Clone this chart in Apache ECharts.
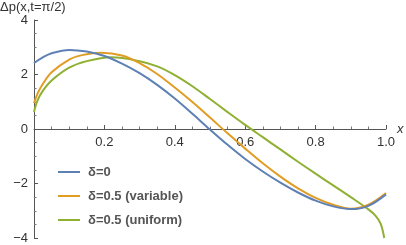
<!DOCTYPE html>
<html>
<head>
<meta charset="utf-8">
<script src="https://cdn.jsdelivr.net/npm/echarts@6/dist/echarts.min.js"></script>
<style>html,body{margin:0;padding:0;background:#fff}#c{width:406px;height:245px}</style>
</head>
<body>
<div id="c"></div>
<script>
var seriesNames = ['δ=0', 'δ=0.5 (variable)', 'δ=0.5 (uniform)'];
var colors = ['#5E81B5', '#E19C24', '#8FB032'];

var xBlue = [0, 0.025, 0.05, 0.1, 0.15, 0.2, 0.25, 0.3, 0.35, 0.4, 0.45, 0.5, 0.55, 0.6, 0.65, 0.7, 0.75, 0.8, 0.85, 0.9, 0.95, 1.0];
var yBlue = [2.42, 2.63, 2.78, 2.9, 2.84, 2.68, 2.4, 2.05, 1.62, 1.12, 0.56, -0.02, -0.58, -1.1, -1.56, -1.97, -2.33, -2.63, -2.84, -2.94, -2.82, -2.4];

var xOrange = [0, 0.01, 0.025, 0.05, 0.1, 0.14, 0.19, 0.25, 0.3, 0.35, 0.4, 0.45, 0.5, 0.55, 0.6, 0.65, 0.7, 0.75, 0.8, 0.85, 0.9, 0.95, 1.0];
var yOrange = [0.95, 1.3, 1.65, 2.08, 2.55, 2.72, 2.8, 2.7, 2.42, 2.02, 1.52, 0.99, 0.42, -0.16, -0.72, -1.26, -1.75, -2.18, -2.53, -2.78, -2.93, -2.78, -2.35];

var xGreen = [0, 0.01, 0.025, 0.05, 0.1, 0.15, 0.22, 0.3, 0.35, 0.4, 0.45, 0.5, 0.55, 0.6, 0.65, 0.7, 0.75, 0.8, 0.85, 0.9, 0.95, 0.97, 0.985, 0.995];
var yGreen = [0.62, 1.05, 1.4, 1.78, 2.25, 2.49, 2.63, 2.49, 2.3, 1.98, 1.57, 1.1, 0.62, 0.15, -0.3, -0.75, -1.2, -1.64, -2.07, -2.5, -2.95, -3.18, -3.48, -4.0];

var xTicks = [0.2, 0.4, 0.6, 0.8, 1.0];
var yTicks = [-4, -2, 0, 2, 4];

function pairs(xs, ys) { return xs.map(function (x, i) { return [x, ys[i]]; }); }

var font = 'Liberation Sans, Arial, sans-serif';
var chart = echarts.init(document.getElementById('c'), null, {renderer: 'canvas'});
var dataSets = [pairs(xBlue, yBlue), pairs(xOrange, yOrange), pairs(xGreen, yGreen)];

chart.setOption({
  animation: false,
  textStyle: {fontFamily: font},
  title: {
    text: 'Δp(x,t=π/2)', left: 0, top: 1, padding: 0,
    textStyle: {fontSize: 13, fontWeight: 'normal', color: '#333', fontFamily: font}
  },
  grid: {left: 34, right: 20, top: 20, bottom: 7, containLabel: false, outerBoundsMode: 'none'},
  legend: {
    orient: 'vertical', left: 58, top: 165, padding: 0,
    itemWidth: 22, itemHeight: 2, itemGap: 10, icon: 'rect',
    data: seriesNames,
    textStyle: {fontSize: 13, fontWeight: 'bold', color: '#555', fontFamily: font, lineHeight: 14, padding: [0, 0, 0, 3]}
  },
  xAxis: {
    type: 'value', min: 0, max: 1, interval: 0.2,
    position: 'bottom', offset: -109,
    name: 'x', nameLocation: 'end', nameGap: 11,
    nameTextStyle: {fontStyle: 'italic', fontSize: 13, color: '#333', padding: [6, 0, 0, 0]},
    axisLine: {onZero: false, lineStyle: {color: '#555', width: 1}},
    axisTick: {inside: true, length: 4, lineStyle: {color: '#555'}},
    minorTick: {show: true, splitNumber: 4, length: 2.5, lineStyle: {color: '#777'}},
    splitLine: {show: false},
    axisLabel: {
      showMinLabel: false, fontSize: 13, color: '#333', margin: 7,
      formatter: function (v) { return xTicks.indexOf(+v.toFixed(1)) >= 0 ? v.toFixed(1) : ''; }
    }
  },
  yAxis: {
    type: 'value', min: -4, max: 4, interval: 2,
    axisLine: {show: true, onZero: false, lineStyle: {color: '#555', width: 1}},
    axisTick: {show: true, inside: true, length: 4, lineStyle: {color: '#555'}},
    minorTick: {show: true, splitNumber: 4, length: 2.5, lineStyle: {color: '#777'}},
    splitLine: {show: false},
    axisLabel: {
      fontSize: 13, color: '#333', margin: 6,
      formatter: function (v) { return yTicks.indexOf(v) >= 0 ? String(v).replace('-', '\u2212') : ''; }
    }
  },
  series: seriesNames.map(function (n, i) {
    return {
      name: n, type: 'line', data: dataSets[i], smooth: 0.35,
      symbol: 'none', clip: true,
      lineStyle: {color: colors[i], width: 2}, itemStyle: {color: colors[i]},
      z: 3 - i
    };
  })
});
</script>
</body>
</html>
